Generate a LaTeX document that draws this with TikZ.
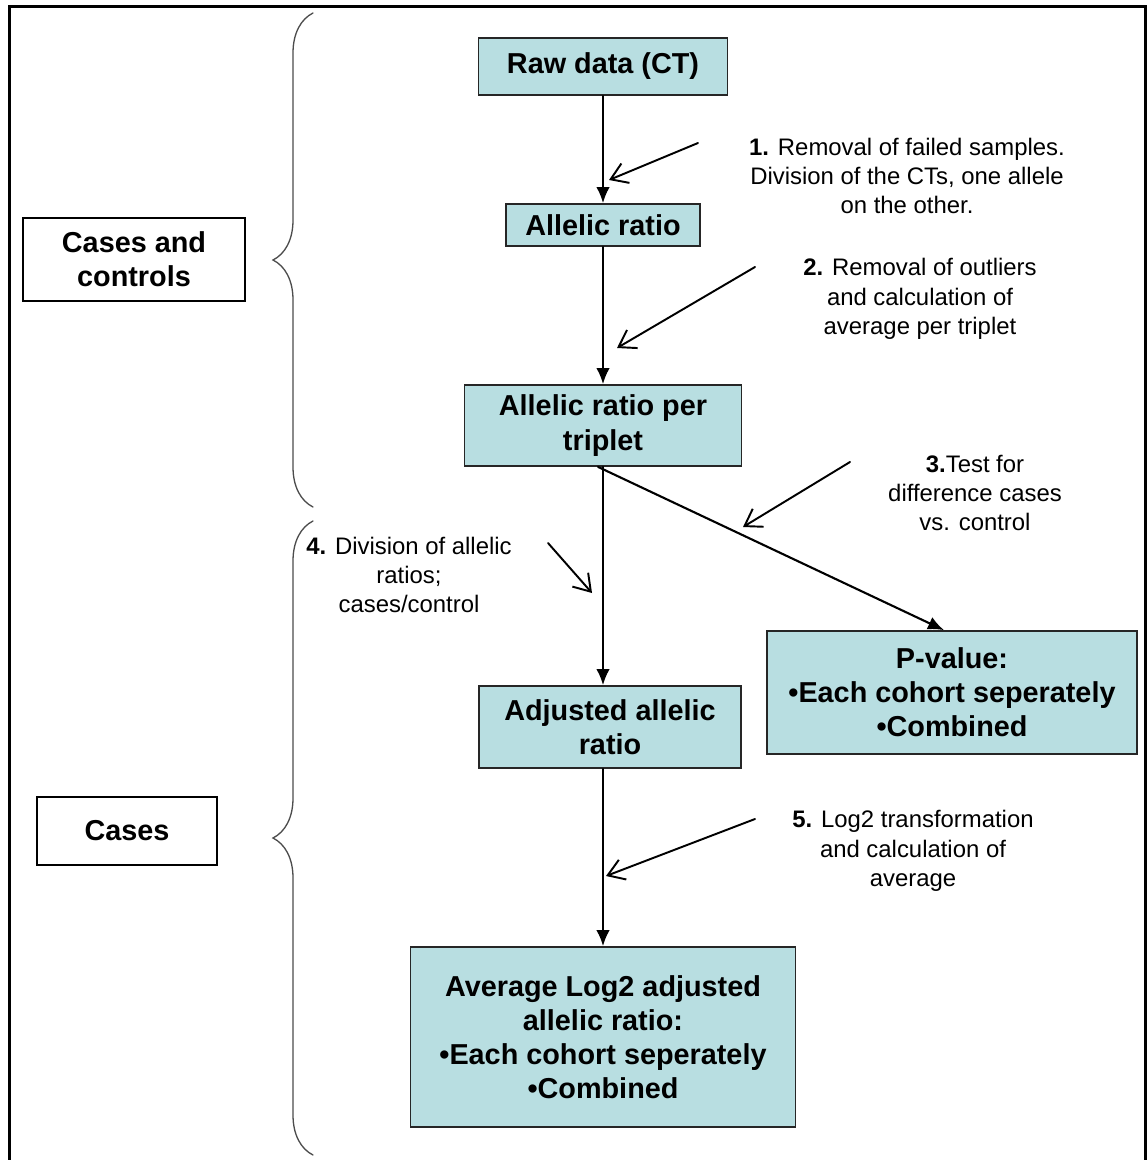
\documentclass[tikz,border=0pt]{standalone}
\usepackage{fontspec}
\setmainfont{Liberation Sans}
\usetikzlibrary{arrows.meta, decorations.pathreplacing}

\begin{document}
\begin{tikzpicture}[x=0.02cm, y=-0.02cm, line cap=round,
		% Styles
		flowbox/.style={draw=boxline, fill=boxfill, line width=1pt, align=center, inner sep=0pt,
			font=\fontsize{16.4}{19.4}\selectfont\bfseries},
		groupbox/.style={draw=black, line width=1pt, align=center, inner sep=0pt,
			font=\fontsize{16.4}{19.4}\selectfont\bfseries},
		note text/.style={align=center, inner sep=0pt, font=\fontsize{13.6}{16.7}\selectfont},
		flow/.style={line width=1.2pt, -{Latex[length=3.2mm, width=2.7mm]}},
		pointer/.style={line width=1.1pt, -{Straight Barb[length=3.2mm, width=4.2mm]}},
		group brace/.style={draw=bracecolor, line width=0.75pt,
			decorate, decoration={brace, amplitude=0.8cm}}
		]
		
		% Colors
		\definecolor{boxfill}{RGB}{184,222,225}
		\colorlet{boxline}{black!85}
		\colorlet{bracecolor}{black!70}
		
		\useasboundingbox (0, 0) rectangle (1147, 1160);
		\clip (0, 0) rectangle (1147, 1160);
		
		% Frame (open at the bottom)
		\draw[line width=0.06cm] (9.5, 1200) -- (9.5, 6.5) -- (1145.5, 6.5) -- (1145.5, 1200);
		
		% Flow boxes
		\node[flowbox, minimum width=4.98cm, minimum height=1.14cm] (raw) at (603, 66.5) {Raw data (CT)};
		\node[flowbox, minimum width=3.88cm, minimum height=0.84cm] (allelic) at (603, 225) {Allelic ratio};
		\node[flowbox, minimum width=5.54cm, minimum height=1.62cm] (triplet) at (603, 425.5) {Allelic ratio per\\triplet};
		\node[flowbox, minimum width=7.4cm, minimum height=2.46cm] (pvalue) at (952, 692.5)
			{P-value:\\•Each cohort seperately\\•Combined};
		\node[flowbox, minimum width=5.24cm, minimum height=1.64cm] (adjusted) at (610, 727) {Adjusted allelic\\ratio};
		\node[flowbox, minimum width=7.7cm, minimum height=3.6cm] (average) at (603, 1037)
			{Average Log2 adjusted\\allelic ratio:\\•Each cohort seperately\\•Combined};
		
		% Group labels
		\node[groupbox, minimum width=4.44cm, minimum height=1.66cm] (casesctrl) at (134, 259.5) {Cases and\\controls};
		\node[groupbox, minimum width=3.6cm, minimum height=1.36cm] (cases) at (127, 831) {Cases};
		
		% Braces
		\coordinate (brace1 top) at (313, 13);
		\coordinate (brace1 bottom) at (313, 507);
		\coordinate (brace2 top) at (313, 521);
		\coordinate (brace2 bottom) at (313, 1155);
		\draw[group brace] (brace1 bottom) -- (brace1 top);
		\draw[group brace] (brace2 bottom) -- (brace2 top);
		
		% Flow arrows
		\draw[flow] (raw) -- (allelic);
		\draw[flow] (allelic) -- (triplet);
		\draw[flow] (triplet.south) -- (triplet.south |- adjusted.north);
		\draw[flow] (average.north |- adjusted.south) -- (average.north);
		\draw[flow] ([xshift=-0.1cm]triplet.south) -- ([xshift=-0.16cm]pvalue.north);
		
		% Step notes
		\node[note text] (note1) at (907, 176) {\textbf{1.} Removal of failed samples.\\Division of the CTs, one allele\\on the other.};
		\node[note text] (note2) at (920, 299) {\textbf{2.} Removal of outliers\\and calculation of\\average per triplet};
		\node[note text] (note3) at (975, 493) {\textbf{3.}Test for\\difference cases\\vs. control};
		\node[note text] (note4) at (409, 575) {\textbf{4.} Division of allelic\\ratios;\\cases/control};
		\node[note text] (note5) at (913, 851) {\textbf{5.} Log2 transformation\\and calculation of\\average};
		
		% Pointers from the notes
		\coordinate (p1 from) at (698, 143);  \coordinate (p1 to) at (609, 180);
		\coordinate (p2 from) at (755, 267);  \coordinate (p2 to) at (617, 348);
		\coordinate (p3 from) at (850, 462);  \coordinate (p3 to) at (743, 527);
		\coordinate (p4 from) at (548, 543);  \coordinate (p4 to) at (592, 593);
		\coordinate (p5 from) at (755, 819);  \coordinate (p5 to) at (606, 876);
		\foreach \p in {p1, p2, p3, p4, p5}
			\draw[pointer] (\p\space from) -- (\p\space to);
		
	\end{tikzpicture}
\end{document}
